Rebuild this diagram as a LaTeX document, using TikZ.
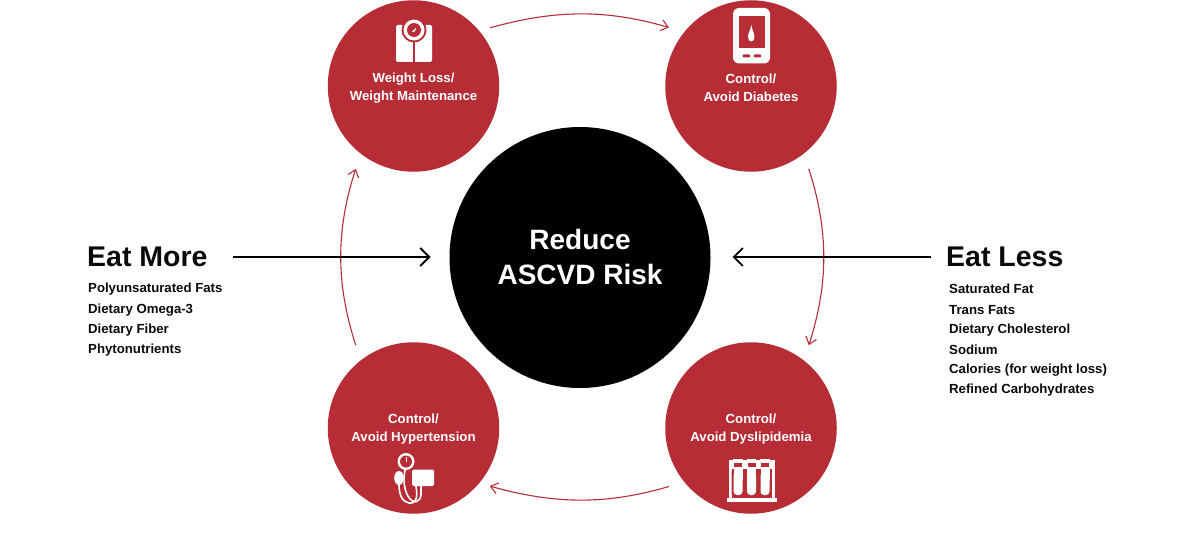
\documentclass[tikz,border=0pt]{standalone}
\usepackage{fontspec}
\setmainfont{Liberation Sans}
\usetikzlibrary{arrows.meta,calc}
\definecolor{cred}{HTML}{B72D36}
\definecolor{ink}{HTML}{0A0A0A}
\tikzset{
  goal/.style={circle,fill=cred,draw=none,minimum size=171.5pt,inner sep=0pt,outer sep=0pt},
  hub/.style={circle,fill=black,draw=none,minimum size=261pt,inner sep=0pt,outer sep=0pt},
  goaltext/.style={text=white,align=center,inner sep=0pt,font=\fontsize{13.2}{18}\selectfont\bfseries},
  hubtext/.style={text=white,align=center,inner sep=0pt,font=\fontsize{28}{35}\selectfont\bfseries},
  headtext/.style={text=ink,anchor=west,inner sep=0pt,font=\fontsize{28.5}{32}\selectfont\bfseries},
  listtext/.style={text=ink,anchor=west,inner sep=0pt,font=\fontsize{13.2}{16}\selectfont\bfseries},
  cyc/.style={draw=cred,line width=1.1pt,-{Straight Barb[length=7pt,width=11pt,line width=1.1pt]}},
  feed/.style={draw=black,line width=1.9pt,-{Straight Barb[length=9pt,width=18pt,line width=1.9pt]}},
  iconw/.style={fill=white,draw=none},
  iconr/.style={fill=cred,draw=none},
  tubew/.style={draw=white,line width=1.6pt,fill=none,line cap=round},
}
\begin{document}
\begin{tikzpicture}[x=1pt,y=-1pt]
\useasboundingbox (0,0) rectangle (1200,551);
% goal circles and hub
\node[goal] (tl) at (413.5,86) {};
\node[goal] (tr) at (751,86) {};
\node[goal] (bl) at (413.5,428) {};
\node[goal] (br) at (751,428) {};
\node[hub] (hub) at (580,257.5) {};
\node[hubtext] (hublabel) at (580,257) {Reduce\\ASCVD Risk};
% goal labels
\node[goaltext] (tllabel) at (413.5,88) {Weight Loss/\\Weight Maintenance};
\node[goaltext] (trlabel) at (751,88) {Control/\\Avoid Diabetes};
\node[goaltext] (bllabel) at (413.5,429) {Control/\\Avoid Hypertension};
\node[goaltext] (brlabel) at (751,429) {Control/\\Avoid Dyslipidemia};
% cycle arrows
\draw[cyc,shorten <=11pt,shorten >=16pt] (tl.40) to[bend left=16] (tr.141);
\draw[cyc,shorten <=16pt,shorten >=16pt] (tr.-52) to[bend left=18] (br.52);
\draw[cyc,shorten <=16pt,shorten >=11pt] (br.-141) to[bend left=16] (bl.-40);
\draw[cyc,shorten <=16pt,shorten >=16pt] (bl.128) to[bend left=18] (tl.-128);
% eat more
\node[headtext] (more) at (87,257) {Eat More};
\node[listtext] (m1) at (88,289) {Polyunsaturated Fats};
\node[listtext] (m2) at (88,310) {Dietary Omega-3};
\node[listtext] (m3) at (88,330) {Dietary Fiber};
\node[listtext] (m4) at (88,350) {Phytonutrients};
% eat less
\node[headtext] (less) at (946,257) {Eat Less};
\node[listtext] (l1) at (949,289) {Saturated Fat};
\node[listtext] (l2) at (949,310) {Trans Fats};
\node[listtext] (l3) at (949,330) {Dietary Cholesterol};
\node[listtext] (l4) at (949,350) {Sodium};
\node[listtext] (l5) at (949,370) {Calories (for weight loss)};
\node[listtext] (l6) at (949,390) {Refined Carbohydrates};
\draw[feed,shorten <=25pt,shorten >=19pt] (more.east) -- (hub.west |- more.east);
\draw[feed,shorten <=15pt,shorten >=22pt] (less.west) -- (hub.east |- less.west);
% scale icon
\fill[iconw,rounded corners=1.5pt] (396,25) rectangle (432,62);
\fill[iconr] (413.3,38) rectangle (414.7,62);
\fill[iconr] (414,30) circle (12.5);
\fill[iconw] (414,30) circle (10.5);
\fill[iconr] (414,30) circle (7);
\fill[iconw] (411.5,32) -- (416,27.5) -- (415,31.5) -- cycle;
% glucose meter icon
\fill[iconw,rounded corners=6pt] (733,8) rectangle (770,63.5);
\fill[iconr] (739,16) rectangle (764.5,48);
\fill[iconw] (751.3,25) .. controls (752,30) and (754.5,33) .. (754.5,37) .. controls (754.5,43) and (748,43) .. (748,37) .. controls (748,33) and (750.6,30) .. (751.3,25) -- cycle;
\fill[iconr,rounded corners=1pt] (742.5,54.5) rectangle (750,57.5);
\fill[iconr,rounded corners=1pt] (753.5,54.5) rectangle (761,57.5);
% blood pressure icon
\fill[iconw] (406,461.5) circle (8.5);
\fill[iconr] (406,461.5) circle (6);
\draw[draw=white,line width=.8pt] (406,461.5) -- (406,456.5);
\fill[iconw,rounded corners=1.5pt] (412,469.5) rectangle (434,486);
\fill[iconw] (399,478) ellipse (4.8 and 7);
\draw[tubew] (405,470) .. controls (403,480) and (404,492) .. (410,499) .. controls (414,504) and (420,502) .. (421,495) -- (421,486);
\draw[tubew] (399,485) .. controls (399,494) and (402,502) .. (409,503) .. controls (416,504) and (418,498) .. (416,486);
% test tube icon
\fill[iconw] (727,498) rectangle (777,501.5);
\fill[iconw] (729,460) rectangle (775,469);
\fill[iconw] (729,460) rectangle (732,498);
\fill[iconw] (772,460) rectangle (775,498);
\foreach \cx/\tn in {738/a,751.5/b,765/c}{
  \fill[iconr] (\cx-4,462.5) rectangle (\cx+4,468);
  \fill[iconr,rounded corners=3pt] (\cx-6.5,469) -- (\cx-6.5,497) -- (\cx+6.5,497) -- (\cx+6.5,469) -- cycle;
  \fill[iconw] (\cx-4.8,459) -- (\cx+4.8,459) -- (\cx+4.8,462) -- (\cx-4.8,462) -- cycle;
  \fill[iconw,rounded corners=3.5pt] (\cx-4.5,472) -- (\cx-4.5,495) -- (\cx+4.5,495) -- (\cx+4.5,472) -- cycle;
  \fill[iconw] (\cx-4.5,467) rectangle (\cx+4.5,480);
}
\end{tikzpicture}
\end{document}
